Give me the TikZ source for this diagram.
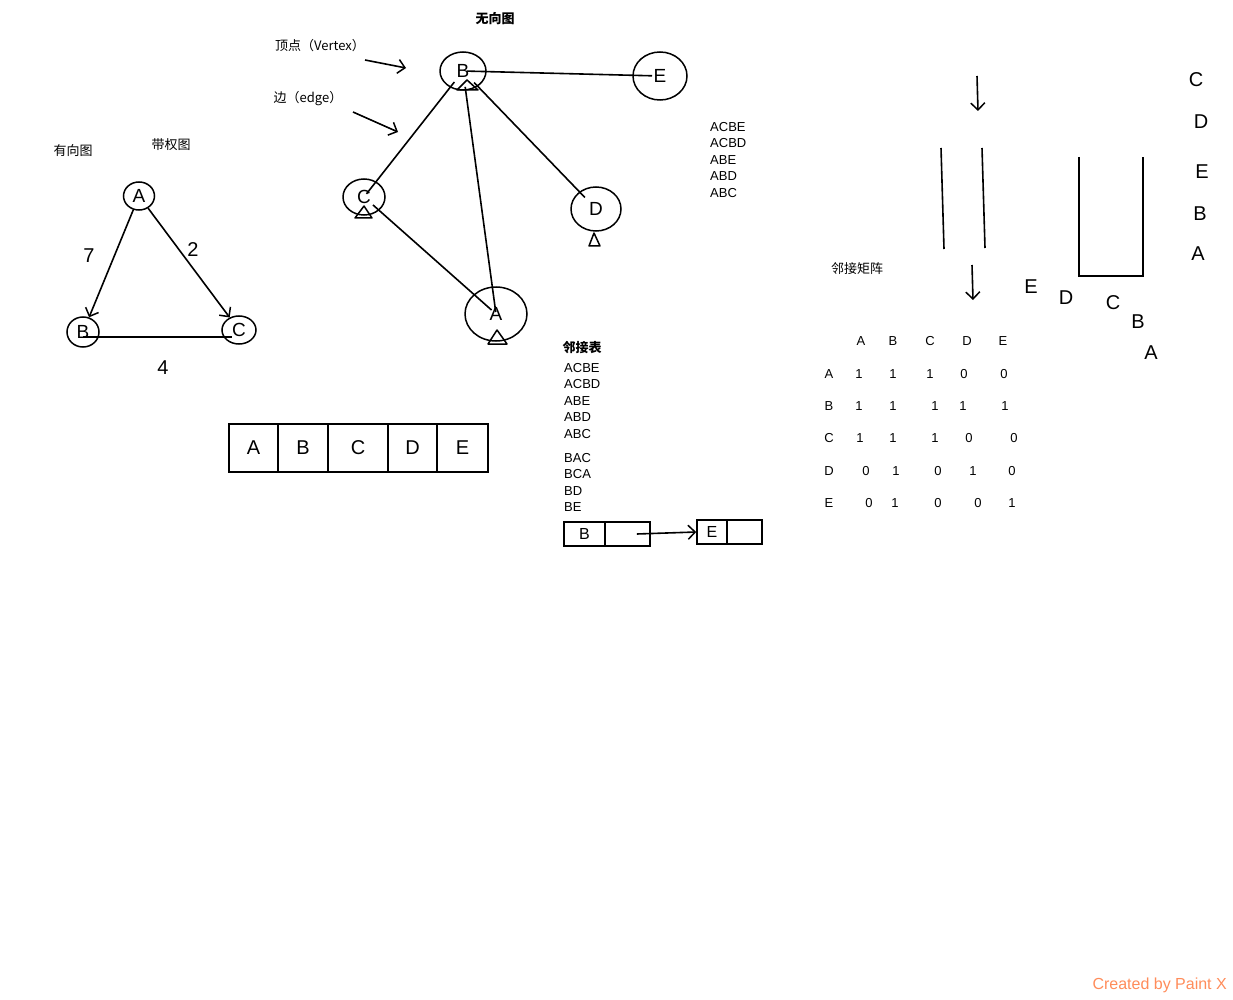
\documentclass[tikz,border=0pt]{standalone}
\usepackage{fontspec}
\setmainfont{Liberation Sans}
\newfontfamily\cjk{Noto Sans CJK SC}
\usetikzlibrary{arrows.meta,shapes.geometric}
\definecolor{paintx}{RGB}{255,140,90}
\begin{document}
\begin{tikzpicture}[x=1pt,y=-1pt,
  txt/.style={inner sep=0pt,anchor=west,font=\fontsize{13}{15}\selectfont},
  mtx/.style={inner sep=0pt,font=\fontsize{13}{15}\selectfont},
  cn/.style={inner sep=0pt,font=\cjk\fontsize{13}{15}\selectfont},
  cnb/.style={inner sep=0pt,font=\cjk\bfseries\fontsize{13}{15}\selectfont},
  hand/.style={inner sep=0pt,font=\fontsize{20}{22}\selectfont},
  vtx/.style={draw,ellipse,line width=1.5pt,inner sep=0pt,font=\fontsize{19}{21}\selectfont},
  stroke/.style={line width=1.6pt},
  tip/.style={-{Straight Barb[length=7pt,width=14pt,line width=1.5pt]}},
  cell/.style={draw,line width=1.6pt,inner sep=0pt,font=\fontsize{20}{22}\selectfont},
  lcell/.style={draw,line width=1.6pt,inner sep=0pt,minimum height=24,font=\fontsize{16}{18}\selectfont},
  tri/.style={line width=1.5pt,line join=round}
]
\useasboundingbox (0,0) rectangle (1233,1000);

% ---------- directed weighted graph ----------
\node[cn] (ltitle1) at (73,151) {有向图};
\node[cn] (ltitle2) at (171,145) {带权图};
\node[vtx,minimum width=31,minimum height=28] (dA) at (139,196) {A};
\node[vtx,minimum width=32,minimum height=30] (dB) at (83,332) {B};
\node[vtx,minimum width=34,minimum height=28] (dC) at (239,330) {C};
\draw[stroke,tip] (dA) -- (dB);
\draw[stroke,tip] (dA) -- (dC);
\draw[stroke] ([yshift=-5pt]dB.center) -- ([xshift=-7pt,yshift=-7pt]dC.center);
\node[hand] (w1) at (89,256) {7};
\node[hand] (w2) at (193,250) {2};
\node[hand] (w3) at (163,368) {4};

% ---------- array ----------
\node[cell,minimum width=49,minimum height=48] (c1) at (253.5,448) {A};
\node[cell,minimum width=50,minimum height=48] (c2) at (303,448) {B};
\node[cell,minimum width=60,minimum height=48] (c3) at (358,448) {C};
\node[cell,minimum width=49,minimum height=48] (c4) at (412.5,448) {D};
\node[cell,minimum width=51,minimum height=48] (c5) at (462.5,448) {E};

% ---------- undirected graph ----------
\node[cnb] (utitle) at (495,19) {无向图};
\node[cn] (lvert) at (320,46) {顶点（Vertex）};
\node[cn] (ledge) at (308,99) {边（edge）};
\coordinate (va) at (365,60);
\coordinate (vb) at (406,68);
\coordinate (ea) at (353,112);
\coordinate (eb) at (398,132);
\draw[stroke,tip] (va) -- (vb);
\draw[stroke,tip] (ea) -- (eb);

\node[vtx,minimum width=46,minimum height=38] (uB) at (463,71) {B};
\node[vtx,minimum width=54,minimum height=48] (uE) at (660,76) {E};
\node[vtx,minimum width=42,minimum height=36] (uC) at (364,197) {C};
\node[vtx,minimum width=50,minimum height=44] (uD) at (596,209) {D};
\node[vtx,minimum width=62,minimum height=54] (uA) at (496,314) {A};
\draw[stroke,shorten <=4pt,shorten >=8pt] (uB.center) -- (uE.center);
\draw[stroke,shorten <=14pt,shorten >=4pt] (uB.center) -- (uC.center);
\draw[stroke,shorten <=16pt,shorten >=2pt] (uB.center) -- (uA.center);
\draw[stroke,shorten <=16pt,shorten >=16pt] (uB.center) -- (uD.center);
\draw[stroke,shorten <=12pt,shorten >=6pt] (uC.center) -- (uA.center);
% small triangles under vertices
\draw[tri] (467,80) -- (478,90) -- (457,90) -- cycle;
\draw[tri] (364,206) -- (372,218) -- (355,218) -- cycle;
\draw[tri] (594,233) -- (600,246) -- (589,246) -- cycle;
\draw[tri] (497,330) -- (507,344) -- (488,344) -- cycle;

% ---------- paths list ----------
\node[txt] (p1) at (710,127) {ACBE};
\node[txt] (p2) at (710,143.5) {ACBD};
\node[txt] (p3) at (710,160) {ABE};
\node[txt] (p4) at (710,176.5) {ABD};
\node[txt] (p5) at (710,193) {ABC};

% ---------- adjacency list ----------
\node[cnb] (adjt) at (582,348) {邻接表};
\node[txt] (q1) at (564,368) {ACBE};
\node[txt] (q2) at (564,384.5) {ACBD};
\node[txt] (q3) at (564,401) {ABE};
\node[txt] (q4) at (564,417.5) {ABD};
\node[txt] (q5) at (564,434) {ABC};
\node[txt] (q6) at (564,458) {BAC};
\node[txt] (q7) at (564,474.5) {BCA};
\node[txt] (q8) at (564,491) {BD};
\node[txt] (q9) at (564,507.5) {BE};
\node[lcell,minimum width=41] (l1a) at (584.5,534) {B};
\node[lcell,minimum width=45] (l1b) at (627.5,534) {};
\node[lcell,minimum width=30] (l2a) at (712,532) {E};
\node[lcell,minimum width=35] (l2b) at (744.5,532) {};
\draw[stroke,tip] ([xshift=-14pt]l1b.east) -- (l2a.west);

% ---------- adjacency matrix ----------
\node[cn] (mt) at (857,269) {邻接矩阵};
\foreach \n/\x in {A/861,B/893,C/930,D/967,E/1003} \node[mtx] (h\n) at (\x,341) {\n};
\foreach \n/\y in {A/374,B/406,C/438,D/471,E/503} \node[mtx] (r\n) at (829,\y) {\n};
\foreach \v/\x [count=\i] in {1/859,1/893,1/930,0/964,0/1004} \node[mtx] (mA\i) at (\x,374) {\v};
\foreach \v/\x [count=\i] in {1/859,1/893,1/935,1/963,1/1005} \node[mtx] (mB\i) at (\x,406) {\v};
\foreach \v/\x [count=\i] in {1/860,1/893,1/935,0/969,0/1014} \node[mtx] (mC\i) at (\x,438) {\v};
\foreach \v/\x [count=\i] in {0/866,1/896,0/938,1/973,0/1012} \node[mtx] (mD\i) at (\x,471) {\v};
\foreach \v/\x [count=\i] in {0/869,1/895,0/938,0/978,1/1012} \node[mtx] (mE\i) at (\x,503) {\v};

% ---------- queue / stack sketch ----------
\coordinate (qa1) at (977,76);
\coordinate (qa2) at (978,111);
\draw[stroke,tip] (qa1) -- (qa2);
\draw[stroke] (941,148) -- (944,249);
\draw[stroke] (982,148) -- (985,248);
\coordinate (qb1) at (972,265);
\coordinate (qb2) at (973,300);
\draw[stroke,tip] (qb1) -- (qb2);
\draw[stroke] (1079,157) -- (1079,276) -- (1143,276) -- (1143,157);

\node[hand] (s1) at (1196,80) {C};
\node[hand] (s2) at (1201,122) {D};
\node[hand] (s3) at (1202,172) {E};
\node[hand] (s4) at (1200,214) {B};
\node[hand] (s5) at (1198,254) {A};

\node[hand] (t1) at (1031,287) {E};
\node[hand] (t2) at (1066,298) {D};
\node[hand] (t3) at (1113,303) {C};
\node[hand] (t4) at (1138,322) {B};
\node[hand] (t5) at (1151,353) {A};

% ---------- watermark ----------
\node[inner sep=0pt,text=paintx,font=\fontsize{16}{18}\selectfont,anchor=east] (wm) at (1227,985) {Created by Paint X};
\end{tikzpicture}
\end{document}
